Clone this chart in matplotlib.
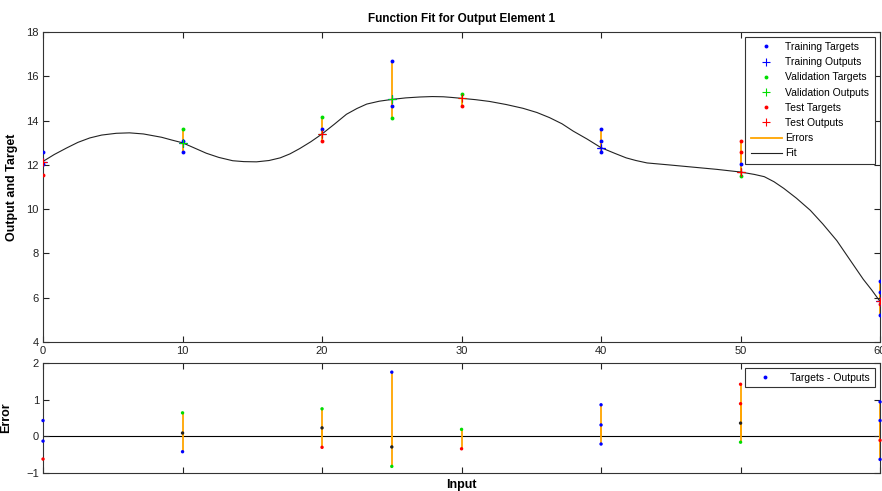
import numpy as np
import matplotlib.pyplot as plt
from matplotlib.lines import Line2D

plt.rcParams['font.family'] = ['Liberation Sans', 'DejaVu Sans']

# one entry per sample: input, target, data set, drawn dark in the error plot
inputs  = [0, 0, 0, 10, 10, 10, 20, 20, 20, 25, 25, 25, 30, 30,
           40, 40, 40, 50, 50, 50, 50, 60, 60, 60, 60]
targets = [12.58, 12.02, 11.53, 13.64, 13.09, 12.58, 14.15, 13.63, 13.10,
           16.71, 14.67, 14.14, 15.20, 14.67, 13.64, 13.09, 12.57,
           13.10, 12.57, 12.04, 11.52, 6.77, 6.26, 5.72, 5.20]
sets    = ['train', 'train', 'test', 'val', 'train', 'train', 'val', 'train', 'test',
           'train', 'train', 'val', 'val', 'test', 'train', 'train', 'train',
           'test', 'test', 'train', 'val', 'train', 'train', 'test', 'train']
dark    = [0, 0, 0, 0, 1, 0, 0, 1, 0, 0, 1, 0, 0, 0, 0, 0, 0,
           0, 0, 1, 0, 0, 0, 0, 0]

# network output at each distinct input
out_x = [0, 10, 20, 25, 30, 40, 50, 60]
out_y = [12.15, 13.0, 13.40, 14.96, 15.01, 12.78, 11.68, 5.83]

# fit curve
fit_x = [0, 0.8, 1.7, 2.5, 3.35, 4.2, 5.25, 6.2, 7.2, 8.5, 9.2, 10, 10.8,
         11.7, 12.6, 13.6, 14.4, 15.3, 16.2, 17.0, 17.7, 18.4, 19.2, 20,
         20.9, 21.75, 22.5, 23.2, 24.1, 25, 26, 27, 27.9, 28.7, 29.3, 30,
         31, 32, 33.2, 34.4, 35.4, 36.3, 37.2, 38, 39, 40, 41, 41.8, 42.5,
         43.3, 44.9, 46.6, 48.3, 50, 51, 51.7, 52.4, 53.1, 54, 55, 55.9,
         56.9, 57.8, 58.8, 59.4, 60]
fit_y = [12.16, 12.47, 12.77, 13.02, 13.22, 13.35, 13.43, 13.45, 13.40, 13.25,
         13.13, 13.0, 12.78, 12.53, 12.34, 12.19, 12.15, 12.14, 12.20, 12.32,
         12.50, 12.74, 13.05, 13.40, 13.85, 14.29, 14.55, 14.75, 14.88, 14.96,
         15.03, 15.07, 15.09, 15.08, 15.05, 15.01, 14.95, 14.87, 14.73, 14.56,
         14.37, 14.14, 13.86, 13.53, 13.17, 12.78, 12.52, 12.32, 12.20, 12.09,
         12.00, 11.90, 11.80, 11.68, 11.57, 11.47, 11.24, 10.94, 10.50, 9.95,
         9.33, 8.58, 7.75, 6.83, 6.35, 5.83]

colors = {'train': '#0000ff', 'val': '#00dd00', 'test': '#ff0000'}
names = {'train': 'Training', 'val': 'Validation', 'test': 'Test'}
orange = '#ffa500'

x = np.array(inputs, dtype=float)
t = np.array(targets)
lookup = dict(zip(out_x, out_y))
y = np.array([lookup[v] for v in inputs])
err = t - y

fig = plt.figure(figsize=(8.82, 4.91), dpi=100)
ax = fig.add_axes([0.0488, 0.3035, 0.949, 0.631])
ax2 = fig.add_axes([0.0488, 0.0367, 0.949, 0.224])

# top panel
ax.vlines(x, y, t, colors=orange, lw=1.3, zorder=1)
ax.plot(fit_x, fit_y, color='#222222', lw=0.8, zorder=2)
handles = []
for s in ['train', 'val', 'test']:
    m = np.array([v == s for v in sets])
    ax.plot(x[m], t[m], 'o', color=colors[s], ms=2.8, mew=0, zorder=3)
    ax.plot(x[m], y[m], '+', color=colors[s], ms=6, mew=0.8, zorder=4)
    handles.append(Line2D([], [], ls='none', marker='o', color=colors[s], ms=2.8, mew=0,
                          label=names[s] + ' Targets'))
    handles.append(Line2D([], [], ls='none', marker='+', color=colors[s], ms=6, mew=0.8,
                          label=names[s] + ' Outputs'))
handles.append(Line2D([], [], color=orange, lw=1.3, label='Errors'))
handles.append(Line2D([], [], color='#222222', lw=0.8, label='Fit'))

ax.set_xlim(0, 60)
ax.set_ylim(4, 18)
ax.set_xticks(range(0, 61, 10))
ax.set_yticks(range(4, 19, 2))
ax.set_title('Function Fit for Output Element 1', fontsize=8.5, fontweight='bold', pad=7)
ax.set_ylabel('Output and Target', fontsize=9, fontweight='bold', labelpad=6)
leg = ax.legend(handles=handles, loc='upper right', bbox_to_anchor=(0.9935, 0.985),
                fontsize=7.5, frameon=True, fancybox=False, framealpha=1,
                edgecolor='#333333', handlelength=3.0, handletextpad=0.35,
                labelspacing=0.5, borderpad=0.5, borderaxespad=0)
leg.get_frame().set_linewidth(0.8)

# bottom panel
ax2.axhline(0, color='black', lw=0.8, zorder=1)
ax2.vlines(x, 0, err, colors=orange, lw=1.3, zorder=2)
ecol = ['#222222' if d else colors[s] for s, d in zip(sets, dark)]
ax2.scatter(x, err, s=6, c=ecol, linewidths=0, zorder=3, clip_on=False)
ax2.set_xlim(0, 60)
ax2.set_ylim(-1, 2)
ax2.set_xticks(range(0, 61, 10))
ax2.set_xticklabels([])
ax2.set_yticks([-1, 0, 1, 2])
ax2.set_ylabel('Error', fontsize=9, fontweight='bold', labelpad=10)
ax2.set_xlabel('Input', fontsize=9, fontweight='bold', labelpad=1)
h2 = [Line2D([], [], ls='none', marker='o', color='#0000ff', ms=2.8, mew=0,
             label='Targets - Outputs')]
leg2 = ax2.legend(handles=h2, loc='upper right', bbox_to_anchor=(0.9935, 0.955),
                  fontsize=7.5, frameon=True, fancybox=False, framealpha=1,
                  edgecolor='#333333', handlelength=3.0, handletextpad=0.9,
                  borderpad=0.45, borderaxespad=0)
leg2.get_frame().set_linewidth(0.8)

for a in (ax, ax2):
    a.tick_params(direction='in', top=True, right=True, length=4, width=0.8,
                  labelsize=8, pad=3, colors='#222222')
    for sp in a.spines.values():
        sp.set_linewidth(0.8)
        sp.set_color('#333333')

fig.savefig('out.png', dpi=100)
